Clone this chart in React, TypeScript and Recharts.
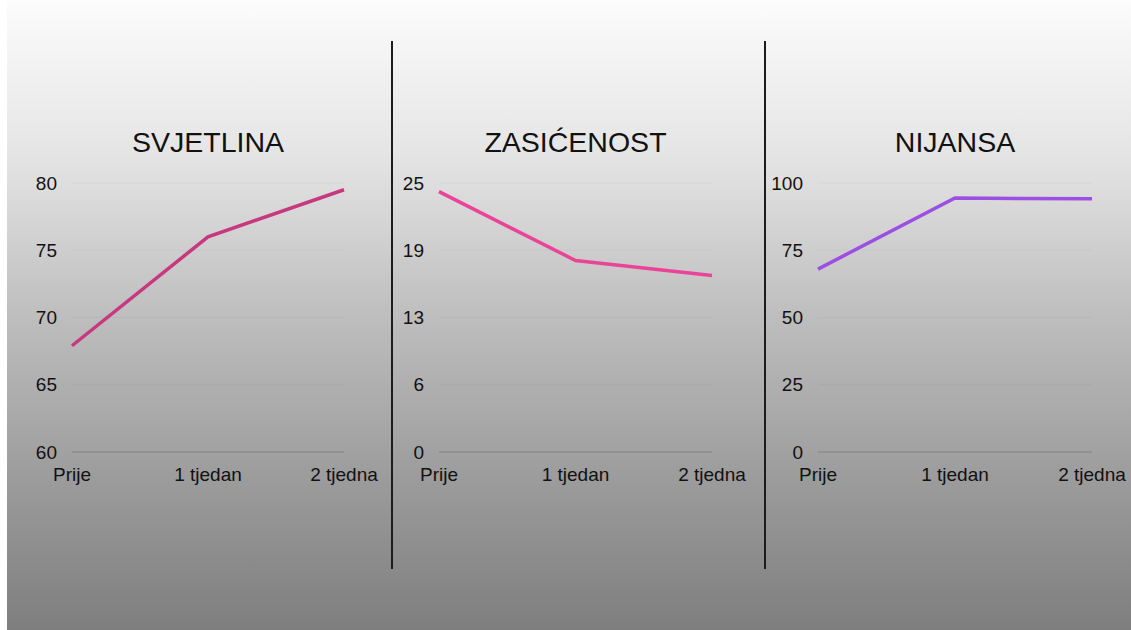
import { LineChart, Line, XAxis, YAxis, CartesianGrid } from "recharts";

const categories = ["Prije", "1 tjedan", "2 tjedna"];

const svjetlina = [67.9, 76.0, 79.5];
const zasicenost = [24.2, 17.8, 16.4];
const nijansa = [68.0, 94.4, 94.1];

const svjetlinaTicks = [60, 65, 70, 75, 80];
const zasicenostTicks = [0, 6.25, 12.5, 18.75, 25];
const nijansaTicks = [0, 25, 50, 75, 100];

const titles = ["SVJETLINA", "ZASIĆENOST", "NIJANSA"];

const FONT = "'Liberation Sans', Arial, Helvetica, sans-serif";

interface PanelProps {
  title: string;
  values: number[];
  ticks: number[];
  color: string;
  plotLeft: number;
  plotWidth: number;
}

const PLOT_TOP = 183;
const PLOT_H = 269;
const Y_AXIS_W = 60;
const M_TOP = 10;
const M_RIGHT = 50;
const M_BOTTOM = 40;
const X_AXIS_H = 30;

function Panel({ title, values, ticks, color, plotLeft, plotWidth }: PanelProps) {
  const data = categories.map((name, i) => ({ name, value: values[i] }));
  const width = Y_AXIS_W + plotWidth + M_RIGHT;
  const height = M_TOP + PLOT_H + X_AXIS_H + M_BOTTOM;

  return (
    <>
      {/* Title */}
      <div
        style={{
          position: "absolute",
          left: plotLeft,
          width: plotWidth,
          top: 124,
          textAlign: "center",
          fontFamily: FONT,
          fontSize: 28.5,
          lineHeight: "36px",
          color: "#111",
          whiteSpace: "nowrap",
        }}
      >
        {title}
      </div>

      <div style={{ position: "absolute", left: plotLeft - Y_AXIS_W, top: PLOT_TOP - M_TOP }}>
        <LineChart
          width={width}
          height={height}
          data={data}
          margin={{ top: M_TOP, right: M_RIGHT, left: 0, bottom: M_BOTTOM }}
        >
          <CartesianGrid vertical={false} stroke="rgba(0,0,0,0.035)" strokeWidth={1} />
          <XAxis
            dataKey="name"
            interval={0}
            height={X_AXIS_H}
            tickLine={false}
            tickSize={0}
            tickMargin={16}
            axisLine={{ stroke: "rgba(0,0,0,0.14)", strokeWidth: 1 }}
            tick={{ fill: "#111", fontSize: 19, fontFamily: FONT }}
          />
          <YAxis
            width={Y_AXIS_W}
            domain={[ticks[0], ticks[ticks.length - 1]]}
            ticks={ticks}
            interval={0}
            tickFormatter={(v: number) => String(Math.round(v))}
            axisLine={false}
            tickLine={false}
            tickSize={0}
            tickMargin={15}
            tick={{ fill: "#111", fontSize: 19, fontFamily: FONT }}
          />
          <Line
            type="linear"
            dataKey="value"
            stroke={color}
            strokeWidth={3.5}
            dot={false}
            isAnimationActive={false}
          />
        </LineChart>
      </div>
    </>
  );
}

export default function App() {
  return (
    <div
      style={{
        position: "absolute",
        left: 0,
        top: 0,
        width: 1131,
        height: 630,
        overflow: "hidden",
        background: "#ffffff",
      }}
    >
      {/* Background gradient */}
      <div
        style={{
          position: "absolute",
          left: 7,
          top: 0,
          width: 1124,
          height: 630,
          background: "linear-gradient(to bottom, #fcfcfc 0%, #e4e4e4 25%, #bebebe 50%, #9d9d9d 75%, #7e7e7e 100%)",
        }}
      />

      {/* Dividers */}
      <div style={{ position: "absolute", left: 391, top: 41, width: 2, height: 528, background: "#1c1c1c" }} />
      <div style={{ position: "absolute", left: 764, top: 41, width: 2, height: 528, background: "#1c1c1c" }} />

      <Panel title={titles[0]} values={svjetlina} ticks={svjetlinaTicks} color="#c8387f" plotLeft={72} plotWidth={272} />
      <Panel title={titles[1]} values={zasicenost} ticks={zasicenostTicks} color="#ea4499" plotLeft={439} plotWidth={273} />
      <Panel title={titles[2]} values={nijansa} ticks={nijansaTicks} color="#9b4fe3" plotLeft={818} plotWidth={274} />
    </div>
  );
}
